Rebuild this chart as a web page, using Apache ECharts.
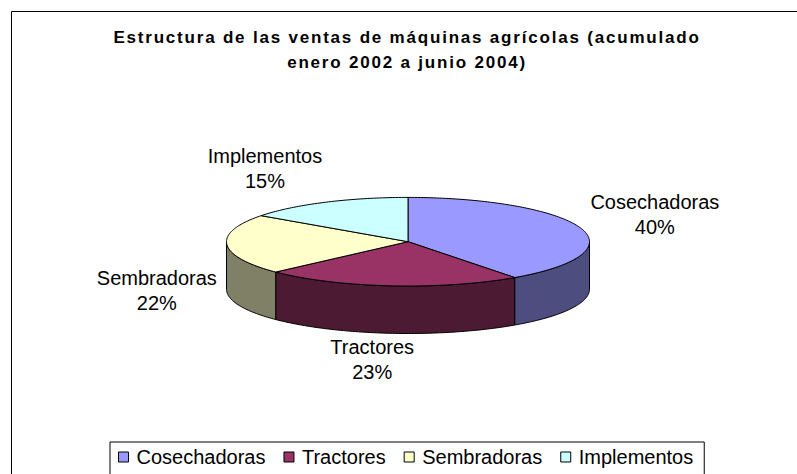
<!DOCTYPE html>
<html>
<head>
<meta charset="utf-8">
<script src="https://cdn.jsdelivr.net/npm/echarts@6/dist/echarts.min.js"></script>
<style>
  html, body { margin: 0; padding: 0; background: #fff; }
  #chart { width: 797px; height: 474px; }
  #chart text[style*="bold"], #chart text[font-weight="bold"] { letter-spacing: 1.8px; }
</style>
</head>
<body>
<div id="chart"></div>
<script>
// ---- data ----
const titleLines = ['Estructura de las ventas de máquinas agrícolas (acumulado', 'enero 2002 a junio 2004)'];
const categories = ['Cosechadoras', 'Tractores', 'Sembradoras', 'Implementos'];
const shares = [40, 23, 22, 15];

// ---- styles ----
const topColors = ['#9999FF', '#993366', '#FFFFCC', '#CCFFFF'];
const sideColors = ['#4D4D80', '#4D1A33', '#808066', '#668080'];
const FONT = '"Liberation Sans", Arial, sans-serif';
const LABEL_SIZE = 20, LABEL_LH = 25;

// pie layout (3D projection)
const PIE = { cx: 408, cy: 241.7, rx: 181.5, ry: 44.3, depth: 47.5 };

const measureCtx = document.createElement('canvas').getContext('2d');
function textWidth(s) {
  measureCtx.font = LABEL_SIZE + 'px ' + FONT;
  return measureCtx.measureText(s).width;
}

const total = shares.reduce((a, b) => a + b, 0);

function pt(a, dy) {
  return [PIE.cx + PIE.rx * Math.sin(a), PIE.cy - PIE.ry * Math.cos(a) + (dy || 0)];
}
function arcPoints(a0, a1, dy) {
  const n = Math.max(2, Math.ceil((a1 - a0) / (Math.PI / 180)));
  const pts = [];
  for (let k = 0; k <= n; k++) pts.push(pt(a0 + (a1 - a0) * k / n, dy));
  return pts;
}

function makeRender(i) {
  return function (params, api) {
    let start = 0;
    for (let k = 0; k < i; k++) start += shares[k];
    const v = api.value(0);
    const a0 = start / total * 2 * Math.PI;
    const a1 = (start + v) / total * 2 * Math.PI;
    const children = [];
    // front side wall
    const s0 = Math.max(a0, Math.PI / 2), s1 = Math.min(a1, Math.PI * 1.5);
    if (s0 < s1) {
      const pts = arcPoints(s0, s1, 0).concat(arcPoints(s0, s1, PIE.depth).reverse());
      children.push({
        type: 'polygon', shape: { points: pts },
        style: { fill: sideColors[i], stroke: '#000', lineWidth: 1 }
      });
    }
    // top face
    const topPts = [[PIE.cx, PIE.cy]].concat(arcPoints(a0, a1, 0));
    children.push({
      type: 'polygon', shape: { points: topPts },
      style: { fill: topColors[i], stroke: '#000', lineWidth: 1, lineJoin: 'round' }
    });
    // label
    const m = (a0 + a1) / 2;
    const front = Math.cos(m) < 0;
    const P = pt(m, front ? PIE.depth : 0);
    const dx = PIE.rx * Math.sin(m), dy = -PIE.ry * Math.cos(m);
    const len = Math.sqrt(dx * dx + dy * dy);
    const name = categories[i];
    const pct = Math.round(v / total * 100) + '%';
    const hw = Math.max(textWidth(name), textWidth(pct)) / 2;
    const hh = LABEL_LH;
    const gx = 10, gy = front ? 4 : 10;
    const lx = P[0] + dx / len * (hw + gx);
    const ly = P[1] - Math.cos(m) * (hh + gy) - 3;
    children.push({
      type: 'text', x: lx, y: ly,
      style: {
        text: name + '\n' + pct, fill: '#000', fontSize: LABEL_SIZE, fontFamily: FONT,
        align: 'center', verticalAlign: 'middle', lineHeight: LABEL_LH
      }
    });
    return { type: 'group', children: children };
  };
}

const series = categories.map((name, i) => ({
  type: 'custom',
  name: name,
  coordinateSystem: 'none',
  silent: true,
  itemStyle: { color: topColors[i] },
  data: [[shares[i]]],
  renderItem: makeRender(i)
}));

const chart = echarts.init(document.getElementById('chart'), null, { renderer: 'svg' });
chart.setOption({
  animation: false,
  backgroundColor: '#fff',
  graphic: [
    {
      type: 'rect', z: -10, silent: true,
      shape: { x: 11.5, y: 11.5, width: 800, height: 500 },
      style: { fill: '#fff', stroke: '#000', lineWidth: 1 }
    },
    {
      type: 'text', silent: true, x: 407, y: 49.5,
      style: {
        text: titleLines.join('\n'), fill: '#000', fontSize: 17, fontWeight: 'bold',
        fontFamily: FONT, align: 'center', verticalAlign: 'middle', lineHeight: 25
      }
    }
  ],
  legend: {
    data: categories,
    left: 110, top: 442,
    orient: 'horizontal',
    padding: [5, 11, 30, 8],
    itemWidth: 10, itemHeight: 10, itemGap: 18,
    icon: 'rect',
    selectedMode: false,
    borderColor: '#000', borderWidth: 1,
    backgroundColor: '#fff',
    itemStyle: { borderColor: '#000', borderWidth: 1 },
    textStyle: { color: '#000', fontSize: LABEL_SIZE, fontFamily: FONT, padding: [0, 0, 0, 3] }
  },
  series: series
});
</script>
</body>
</html>
